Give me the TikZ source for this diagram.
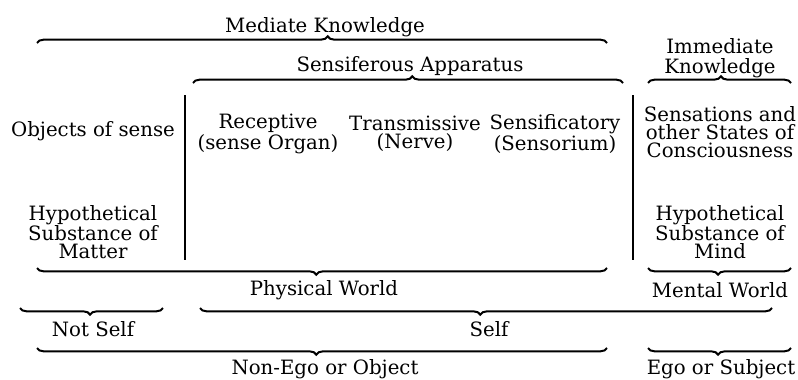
\documentclass[tikz,border=0pt]{standalone}
\usepackage{fontspec}
\setmainfont{DejaVu Serif}
\usetikzlibrary{decorations.pathreplacing}

\tikzset{
  lbl/.style={font=\fontsize{14.8}{13.4}\selectfont, align=center, inner sep=0pt},
  brc/.style={line width=1.5pt, decorate, decoration={brace, amplitude=5, aspect=0.51}},
  divider/.style={line width=1.3pt}
}

\begin{document}
\begin{tikzpicture}[x=0.75pt, y=-0.75pt]
  \useasboundingbox (0,0) rectangle (798,379);

  % --- Top row: knowledge ---
  \node[lbl] (mediate) at (325,27) {Mediate Knowledge};
  \draw[brc] (37,43) -- (607,43);

  \node[lbl, font=\fontsize{14.8}{15}\selectfont] (immediate) at (720,58) {Immediate\\Knowledge};
  \draw[brc] (648,83) -- (791,83);

  \node[lbl] (apparatus) at (410,66) {Sensiferous Apparatus};
  \draw[brc] (193,83) -- (623,83);

  % Dividers
  \draw[divider] (185,95) -- (185,260);
  \draw[divider] (633,95) -- (633,260);

  % --- Middle: contents ---
  \node[lbl] (objects) at (93,131) {Objects of sense};
  \node[lbl] (receptive) at (268,134) {Receptive\\(sense Organ)};
  \node[lbl] (transmissive) at (415,134) {Transmissive\\(Nerve)};
  \node[lbl] (sensificatory) at (555,134) {Sensificatory\\(Sensorium)};
  \node[lbl] (sensations) at (720,132) {Sensations and\\other States of\\Consciousness};

  \node[lbl] (matter) at (93,232) {Hypothetical\\Substance of\\Matter};
  \node[lbl] (mind) at (720,232) {Hypothetical\\Substance of\\Mind};

  % --- Bottom rows: worlds, self, ego ---
  \draw[brc] (607,268) -- (37,268);
  \node[lbl] (physical) at (324,290) {Physical World};
  \draw[brc] (791,268) -- (648,268);
  \node[lbl] (mental) at (720,290) {Mental World};

  \draw[brc] (163,308) -- (20,308);
  \node[lbl] (notself) at (93,329) {Not Self};
  \draw[brc] (772,308) -- (200,308);
  \node[lbl] (self) at (489,329) {Self};

  \draw[brc] (607,348) -- (37,348);
  \node[lbl] (nonego) at (325,369) {Non-Ego or Object};
  \draw[brc] (791,348) -- (648,348);
  \node[lbl] (ego) at (721,369) {Ego or Subject};
\end{tikzpicture}
\end{document}
